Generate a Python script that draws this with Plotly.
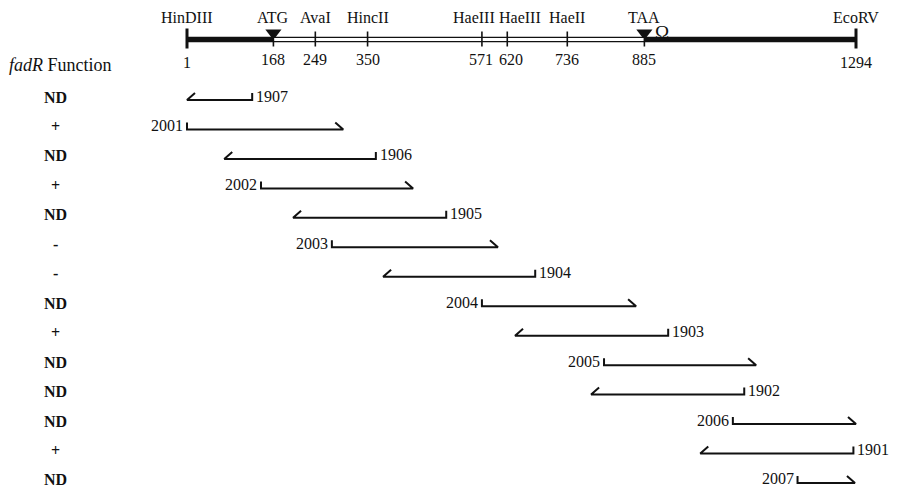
import plotly.graph_objects as go

# ---------------- data ----------------
map_sites = [1, 168, 249, 350, 571, 620, 736, 885, 1294]
site_names = ["HinDIII", "ATG", "AvaI", "HincII", "HaeIII", "HaeIII", "HaeII", "TAA", "EcoRV"]
cds_start, cds_end = 168, 885
terminator_pos = 920

frag_names = ["1907", "2001", "1906", "2002", "1905", "2003", "1904",
              "2004", "1903", "2005", "1902", "2006", "1901", "2007"]
frag_start = [1, 1, 73, 144, 206, 281, 380, 571, 635, 807, 782, 1056, 993, 1181]
frag_end = [127, 303, 366, 438, 502, 602, 674, 869, 931, 1101, 1078, 1294, 1289, 1292]
fadr_function = ["ND", "+", "ND", "+", "ND", "-", "-", "ND", "+", "ND", "ND", "ND", "+", "ND"]

# ---------------- layout helpers ----------------
PAGE_W, PAGE_H = 897, 496
OFF = 8                            # default page body margin
W, H = PAGE_W - OFF, PAGE_H - OFF
PX0, PX1 = 187.0 - OFF, 856.0 - OFF  # plot-pixel x of bp 1 and bp 1294
scale = (PX1 - PX0) / (map_sites[-1] - map_sites[0])
x_lo = map_sites[0] - PX0 / scale
x_hi = map_sites[0] + (W - PX0) / scale
px = lambda p: p / scale          # pixel length -> bp length
Y = lambda p: p - OFF              # page pixel y -> plot y

MAP_Y = Y(39.5)
ROW_Y0, ROW_STEP = Y(100.0), 29.46
FONT = "Liberation Serif"
INK = "#111111"
FS = 16

fig = go.Figure()
shapes = []
ann = []

# map bar
shapes.append(dict(type="rect", xref="x", yref="y", x0=map_sites[0], x1=map_sites[-1],
                   y0=MAP_Y - 2.7, y1=MAP_Y + 2.7, fillcolor=INK, line=dict(width=0)))
shapes.append(dict(type="rect", xref="x", yref="y", x0=cds_start, x1=cds_end,
                   y0=MAP_Y - 1.4, y1=MAP_Y + 1.4, fillcolor="white",
                   line=dict(width=0)))
# site ticks + labels
mid_hae = (map_sites[4] + map_sites[5]) / 2
for i, s in enumerate(map_sites):
    end = i in (0, len(map_sites) - 1)
    shapes.append(dict(type="line", xref="x", yref="y", x0=s, x1=s,
                       y0=MAP_Y - (11 if end else 8), y1=MAP_Y + (9 if end else 7),
                       line=dict(color=INK, width=3 if end else 1.6)))
    lx, anchor = s, "center"
    nx, nanchor = s, "center"
    if i == 4:
        lx, anchor = mid_hae + px(2), "right"
        nx, nanchor = mid_hae, "right"
    elif i == 5:
        lx, anchor = mid_hae + px(2), "left"
        nx, nanchor = mid_hae + px(2), "left"
    ann.append(dict(x=lx, y=Y(17), text=site_names[i], showarrow=False, xanchor=anchor,
                    yanchor="middle", font=dict(family=FONT, size=FS, color=INK)))
    ann.append(dict(x=nx, y=Y(62 if end else 59.5), text=str(s), showarrow=False,
                    xanchor=nanchor, yanchor="middle",
                    font=dict(family=FONT, size=FS, color=INK)))

# start / stop triangles
fig.add_trace(go.Scatter(x=[cds_start, cds_end], y=[MAP_Y - 6.5, MAP_Y - 6.5], mode="markers",
                         marker=dict(symbol="triangle-down", size=14, color=INK,
                                     line=dict(width=0)),
                         hoverinfo="skip", showlegend=False))
ann.append(dict(x=terminator_pos, y=Y(32), text="Ω", showarrow=False, xanchor="center",
                yanchor="middle", font=dict(family=FONT, size=19, color=INK)))

ann.append(dict(xref="paper", x=0, y=Y(65), text="<i>fadR</i> Function", showarrow=False,
                xanchor="left", align="left", yanchor="middle", borderpad=0,
                font=dict(family=FONT, size=18, color=INK)))

# fragments
dx, dy, th = px(8), 7.0, 7.0
for i, name in enumerate(frag_names):
    y = ROW_Y0 + i * ROW_STEP
    s, e = frag_start[i], frag_end[i]
    if name.startswith("19"):
        xs = [s + dx, s, e, e]
        ys = [y - dy, y, y, y - th]
        ann.append(dict(x=e + px(2), y=y - 4, text=name, showarrow=False, xanchor="left",
                        yanchor="middle", font=dict(family=FONT, size=FS, color=INK)))
    else:
        xs = [s, s, e, e - dx]
        ys = [y - th, y, y, y - dy]
        ann.append(dict(x=s - px(2), y=y - 4, text=name, showarrow=False, xanchor="right",
                        yanchor="middle", font=dict(family=FONT, size=FS, color=INK)))
    fig.add_trace(go.Scatter(x=xs, y=ys, mode="lines", line=dict(color=INK, width=2),
                             hoverinfo="skip", showlegend=False))
    ann.append(dict(x=x_lo + px(55 - OFF), y=y - 3, text="<b>%s</b>" % fadr_function[i],
                    showarrow=False, xanchor="center", yanchor="middle",
                    font=dict(family=FONT, size=16, color=INK)))

fig.update_layout(
    width=W, height=H, margin=dict(l=0, r=0, t=0, b=0),
    paper_bgcolor="white", plot_bgcolor="white",
    xaxis=dict(range=[x_lo, x_hi], visible=False, fixedrange=True),
    yaxis=dict(range=[H, 0], visible=False, fixedrange=True),
    shapes=shapes, annotations=ann, showlegend=False,
)
fig.write_html("out.html", config=dict(displayModeBar=False))
